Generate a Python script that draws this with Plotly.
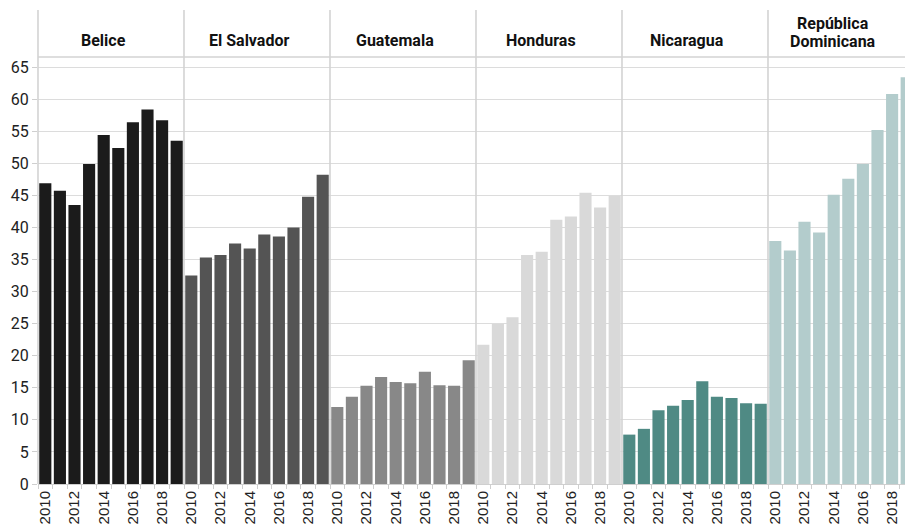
import plotly.graph_objects as go

years = [2010, 2011, 2012, 2013, 2014, 2015, 2016, 2017, 2018, 2019]
countries = ["Belice", "El Salvador", "Guatemala", "Honduras", "Nicaragua", "República Dominicana"]

belice = [46.9, 45.7, 43.5, 49.9, 54.4, 52.4, 56.4, 58.4, 56.7, 53.5]
el_salvador = [32.5, 35.3, 35.7, 37.5, 36.7, 38.9, 38.6, 40.0, 44.8, 48.2]
guatemala = [12.0, 13.6, 15.3, 16.7, 15.9, 15.7, 17.5, 15.4, 15.3, 19.3]
honduras = [21.7, 25.0, 26.0, 35.7, 36.2, 41.2, 41.7, 45.4, 43.1, 44.9]
nicaragua = [7.7, 8.6, 11.5, 12.2, 13.1, 16.0, 13.6, 13.4, 12.6, 12.5]
rep_dominicana = [37.9, 36.4, 40.9, 39.2, 45.1, 47.6, 49.9, 55.2, 60.8, 63.4]

series = [belice, el_salvador, guatemala, honduras, nicaragua, rep_dominicana]
colors = ["#1b1b1b", "#545454", "#888888", "#d9d9d9", "#4f8a84", "#b3cccc"]

y_ticks = [0, 5, 10, 15, 20, 25, 30, 35, 40, 45, 50, 55, 60, 65]
x_ticks = [2010, 2012, 2014, 2016, 2018]

W, H = 905, 527
ML, MR, MT, MB = 38, 0, 57, 43
PH = H - MT - MB
PW = W - ML - MR
panel_px = 146.0
n = len(countries)

fig = go.Figure()
layout = {}
for i, (name, vals, col) in enumerate(zip(countries, series, colors)):
    ax = "" if i == 0 else str(i + 1)
    fig.add_trace(go.Bar(x=years, y=vals, marker=dict(color=col, line=dict(width=0)),
                         xaxis="x" + ax, yaxis="y", showlegend=False,
                         hovertemplate="%{x}: %{y}<extra>" + name + "</extra>"))
    d0 = panel_px * i / PW
    full_d1 = panel_px * (i + 1) / PW
    d1 = min(1.0, full_d1)
    span = (d1 - d0) * PW / panel_px * len(years)
    layout["xaxis" + ax] = dict(
        domain=[d0, d1], anchor="y", range=[years[0] - 0.5, years[0] - 0.5 + span],
        tickmode="array", tickvals=x_ticks, ticktext=[str(t) for t in x_ticks],
        tickangle=-90, ticks="", showgrid=False, zeroline=False,
        showline=True, linecolor="#cfcfcf", linewidth=1,
        tickfont=dict(family="Liberation Sans, Arial", size=15, color="#222"),
        minor=dict(ticks="outside", ticklen=4, tickcolor="#cfcfcf",
                   tickmode="array", tickvals=[y - 0.5 for y in years] + [years[-1] + 0.5],
                   showgrid=False),
        fixedrange=True,
    )
    words = name.split(" ")
    if len(words) > 1 and len(name) > 12:
        lines = [" ".join(words[:-1]), words[-1]]
        offsets = [33, 15]
    else:
        lines = [name]
        offsets = [16]
    for txt, off in zip(lines, offsets):
        fig.add_annotation(text="<b>" + txt + "</b>", xref="paper", yref="paper",
                           x=(d0 + full_d1) / 2, xshift=-8, y=1.0 + off / PH,
                           yanchor="middle", xanchor="center",
                           showarrow=False, font=dict(family="Roboto", size=16, color="#111"))

layout["yaxis"] = dict(
    range=[0, max(rep_dominicana) * 1.05], tickmode="array", tickvals=y_ticks,
    ticks="outside", ticklen=5, tickcolor="#cfcfcf",
    showgrid=True, gridcolor="#dcdcdc", gridwidth=1, zeroline=False,
    tickfont=dict(family="Roboto", size=16, color="#222"), fixedrange=True,
)

fig.update_layout(**layout)

top_y = 1.0 + 47 / PH
shapes = []
for i in range(n):
    xp = panel_px * i / PW
    shapes.append(dict(type="line", xref="paper", yref="paper", x0=xp, x1=xp, y0=0, y1=top_y,
                       line=dict(color="#d3d3d3", width=1.6), layer="above"))
shapes.append(dict(type="line", xref="paper", yref="paper", x0=0, x1=1, y0=1, y1=1,
                   line=dict(color="#d3d3d3", width=1.6)))

fig.update_layout(
    width=W, height=H, margin=dict(l=ML, r=MR, t=MT, b=MB),
    plot_bgcolor="white", paper_bgcolor="white", bargap=0.17, shapes=shapes,
)

fig.write_html(
    "out.html",
    config={"displayModeBar": False},
    post_script="document.documentElement.style.overflow='hidden';"
                "document.body.style.overflow='hidden';document.body.style.margin='0';",
)
